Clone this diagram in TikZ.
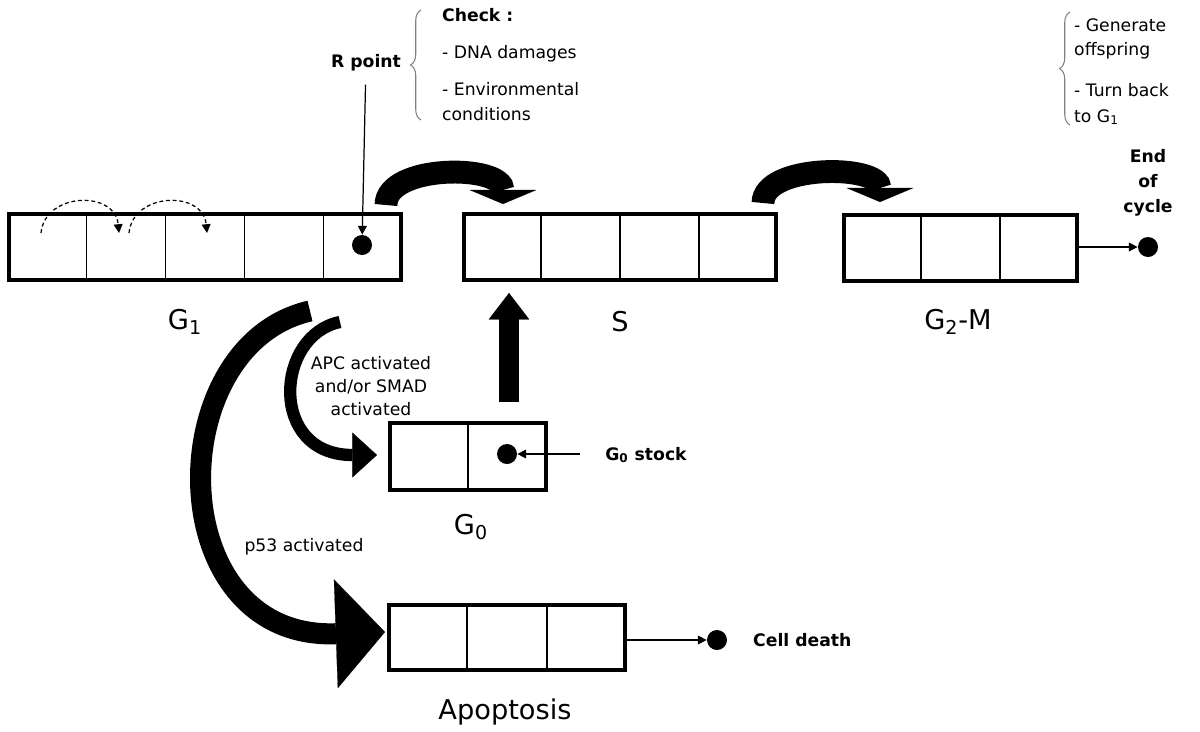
\documentclass[tikz,border=0pt]{standalone}
\usepackage{fontspec}
\setmainfont{DejaVu Sans}
\usetikzlibrary{arrows.meta,calc,decorations.pathreplacing}

\tikzset{
  phase/.style={draw, line width=2.3pt, minimum height=1.32cm, inner sep=0pt},
  cellline/.style={line width=0.7pt},
  dot/.style={circle, fill, inner sep=0pt, minimum size=0.4cm},
  small/.style={font=\fontsize{9.8}{13.3}\selectfont},
  smallbf/.style={font=\fontsize{9.8}{14.2}\selectfont\bfseries},
  big/.style={font=\fontsize{15.5}{18}\selectfont},
  thinarrow/.style={line width=0.7pt, -{Triangle[length=5pt,width=5pt]}},
  dasharc/.style={line width=0.7pt, dash pattern=on 2.2pt off 1.6pt, -{Triangle[length=5pt,width=5pt]}},
  checkbrace/.style={decorate, decoration={brace, amplitude=6pt}, gray, line width=0.6pt},
  fatarrow/.style n args={3}{line width=#1, -{Triangle[width=#2, length=#3, line width=0.1pt]}},
}

% thin walls between the cells of a phase box
\newcommand{\phasecells}[2]{%
  \pgfmathtruncatemacro{\lastdiv}{#2-1}
  \foreach \i in {1,...,\lastdiv}
    \draw[cellline] ($(#1.north west)!\i/#2!(#1.north east)$) -- ($(#1.south west)!\i/#2!(#1.south east)$);}

\begin{document}
\begin{tikzpicture}[x=0.02cm, y=-0.02cm]
  \useasboundingbox (0,0) rectangle (1200,731);

  % phase boxes
  \node[phase, minimum width=7.84cm] (g1) at (205,247) {};
  \node[phase, minimum width=6.24cm] (s) at (620,247) {};
  \node[phase, minimum width=4.66cm] (g2m) at (960.5,248) {};
  \node[phase, minimum width=3.12cm, minimum height=1.34cm] (g0) at (468,456.5) {};
  \node[phase, minimum width=4.72cm, minimum height=1.3cm] (apop) at (507,637.5) {};
  \phasecells{g1}{5}
  \phasecells{s}{4}
  \phasecells{g2m}{3}
  \phasecells{g0}{2}
  \phasecells{apop}{3}

  % phase names
  \node[big] (g1lab) at (185,322) {G\textsubscript{1}};
  \node[big] (slab) at (620,322) {S};
  \node[big] (g2mlab) at (958,322) {G\textsubscript{2}-M};
  \node[big] (g0lab) at (471,527) {G\textsubscript{0}};
  \node[big] (apoplab) at (505,712) {Apoptosis};

  % dots
  \node[dot] (rdot) at (362,245) {};
  \node[dot] (g0dot) at (507,454) {};
  \node[dot] (deathdot) at (717,640) {};
  \node[dot] (enddot) at (1148,247) {};

  % texts
  \node[smallbf] (rlab) at (366,63) {R point};
  \node[smallbf, anchor=base west] (chk) at (436,21) {Check :};
  \node[small, anchor=base west] (dna) at (436,58) {- DNA damages};
  \node[small, anchor=base west] (env) at (436,95) {- Environmental};
  \node[small, anchor=base west] (cond) at (436,120) {conditions};
  \node[small, anchor=base west] (gen) at (1068,31) {- Generate};
  \node[small, anchor=base west] (offs) at (1068,55) {offspring};
  \node[small, anchor=base west] (turn) at (1068,96) {- Turn back};
  \node[small, anchor=base west] (tog1) at (1068,122) {to G\textsubscript{1}};
  \node[smallbf, align=center] (endlab) at (1148,183) {End\\of\\cycle};
  \node[small, align=center] (apclab) at (371,386) {APC activated\\and/or SMAD\\activated};
  \node[small] (p53lab) at (304,547) {p53 activated};
  \node[smallbf] (stocklab) at (646,455) {G\textsubscript{0} stock};
  \node[smallbf, anchor=west] (deathlab) at (747,640) {Cell death};

  % braces
  \draw[checkbrace] (421,120) -- (421,10);
  \draw[checkbrace] (1070,125) -- (1070,12);

  % thin arrows
  \draw[thinarrow, shorten <=4pt] (rlab) -- (rdot);
  \coordinate (stockfoot) at (580,454);
  \draw[thinarrow] (stockfoot) -- (g0dot);
  \draw[thinarrow] (apop.east |- deathdot) -- (deathdot);
  \draw[thinarrow] (g2m.east |- enddot) -- (enddot);

  % dashed steps inside G1
  \coordinate (da0) at (41,233);
  \coordinate (da1) at (119,233);
  \coordinate (db0) at (129,233);
  \coordinate (db1) at (207,233);
  \draw[dasharc] (da0) .. controls (45,192) and (115,190) .. (da1);
  \draw[dasharc] (db0) .. controls (133,192) and (203,190) .. (db1);

  % fat arrows
  \coordinate (gos0) at (386,205);
  \coordinate (gos1) at (503,204);
  \coordinate (sgm0) at (763,203);
  \coordinate (sgm1) at (880,202);
  \coordinate (up0) at (509,402);
  \coordinate (up1) at (509,293);
  \coordinate (apc0) at (340,322);
  \coordinate (apc1) at (377,455);
  \coordinate (p530) at (310,311);
  \coordinate (p531) at (385,632);
  \draw[fatarrow={13pt}{38pt}{8pt}] (gos0) .. controls (386,164) and (503,164) .. (gos1);
  \draw[fatarrow={13pt}{38pt}{8pt}] (sgm0) .. controls (763,164) and (880,164) .. (sgm1);
  \draw[fatarrow={11.3pt}{23pt}{15pt}] (up0) -- (up1);
  \draw[fatarrow={7pt}{25.5pt}{14pt}] (apc0) .. controls (275,335) and (268,455) .. (apc1);
  \draw[fatarrow={12pt}{62pt}{28pt}] (p530) .. controls (160,345) and (160,640) .. (p531);
\end{tikzpicture}
\end{document}
